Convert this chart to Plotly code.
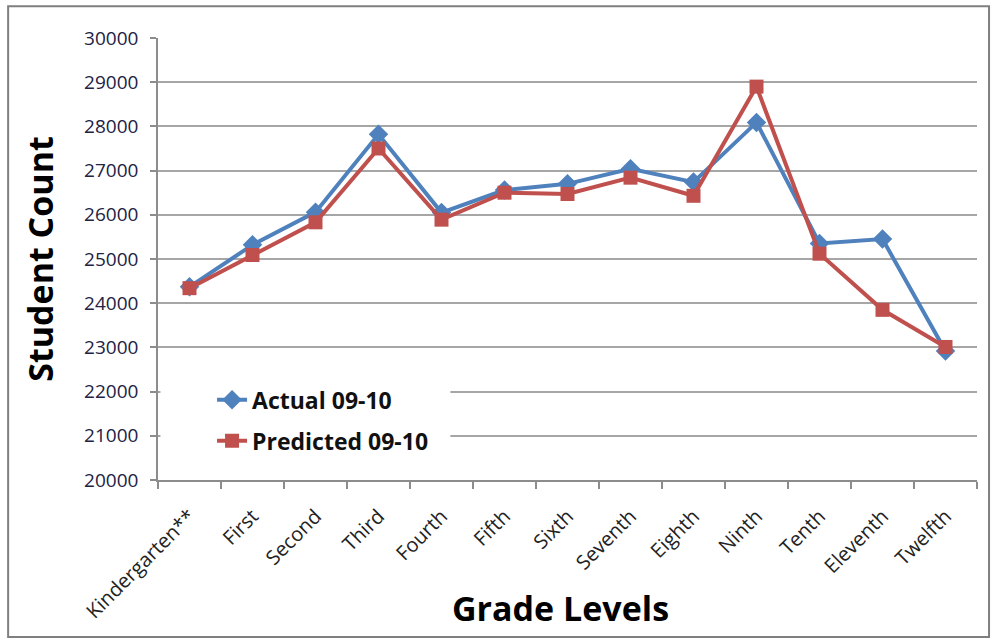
import plotly.graph_objects as go

grades = ["Kindergarten**", "First", "Second", "Third", "Fourth", "Fifth", "Sixth",
          "Seventh", "Eighth", "Ninth", "Tenth", "Eleventh", "Twelfth"]
actual = [24370, 25320, 26060, 27820, 26050, 26560, 26700, 27040, 26740, 28090, 25350, 25450, 22920]
predicted = [24340, 25090, 25830, 27500, 25890, 26500, 26470, 26840, 26430, 28900, 25120, 23850, 23010]
y_ticks = list(range(20000, 30001, 1000))

BLUE = "#4F81BD"
RED = "#C0504D"
FONT = "Open Sans"

fig = go.Figure()
fig.add_trace(go.Scatter(
    x=grades, y=actual, name="Actual 09-10", mode="lines+markers",
    line=dict(color=BLUE, width=4),
    marker=dict(symbol="diamond", size=15, color=BLUE),
    legendgroup="a",
))
fig.add_trace(go.Scatter(
    x=grades, y=predicted, name="Predicted 09-10", mode="lines+markers",
    line=dict(color=RED, width=4),
    marker=dict(symbol="square", size=14, color=RED),
    legendgroup="p",
))

fig.update_layout(
    width=997, height=639,
    margin=dict(l=158, r=20, t=38, b=159),
    paper_bgcolor="white", plot_bgcolor="white",
    font=dict(family=FONT, color="#222222"),
    showlegend=True,
    legend=dict(
        x=0.066, y=0.23, xanchor="left", yanchor="top",
        bgcolor="white", borderwidth=0,
        font=dict(family=FONT, size=23, color="#111111", weight="bold"),
        tracegroupgap=8,
    ),
    xaxis=dict(
        type="category", tickson="boundaries", range=[-0.5, 12.5],
        showgrid=False, showline=True, linecolor="#8c8c8c", linewidth=1.5,
        ticks="outside", ticklen=7, tickcolor="#8c8c8c", tickwidth=1.5,
        ticklabelstandoff=15,
        tickangle=-45, tickfont=dict(family=FONT, size=20, color="#222222"),
    ),
    yaxis=dict(
        range=[20000, 30000], tickvals=y_ticks, tickformat="d",
        showgrid=True, gridcolor="#a6a6a6", gridwidth=1.5,
        showline=True, linecolor="#8c8c8c", linewidth=1.5,
        ticks="outside", ticklen=6, tickcolor="#8c8c8c", tickwidth=1.5,
        ticklabelstandoff=8,
        tickfont=dict(family=FONT, size=19, color="#222244"),
        zeroline=False,
        title=dict(text="Student Count", font=dict(family=FONT, size=34, color="black", weight="bold"),
                   standoff=20),
    ),
    annotations=[dict(
        text="Grade Levels", xref="paper", yref="paper", x=0.492, y=-0.29,
        xanchor="center", yanchor="middle", showarrow=False,
        font=dict(family=FONT, size=34, color="black", weight="bold"),
    )],
    shapes=[
        dict(type="rect", xref="paper", yref="paper",
             x0=-0.183, x1=1.0147, y0=-0.355, y1=1.072,
             line=dict(color="#7f7f7f", width=2), fillcolor="rgba(0,0,0,0)", layer="below"),
        dict(type="rect", xref="paper", yref="paper",
             x0=0.003, x1=0.357, y0=0.057, y1=0.249,
             line=dict(width=0), fillcolor="white", layer="above"),
    ],
)

fig.write_html("out.html", post_script="document.body.style.margin='0';",
               config={"displayModeBar": False})
